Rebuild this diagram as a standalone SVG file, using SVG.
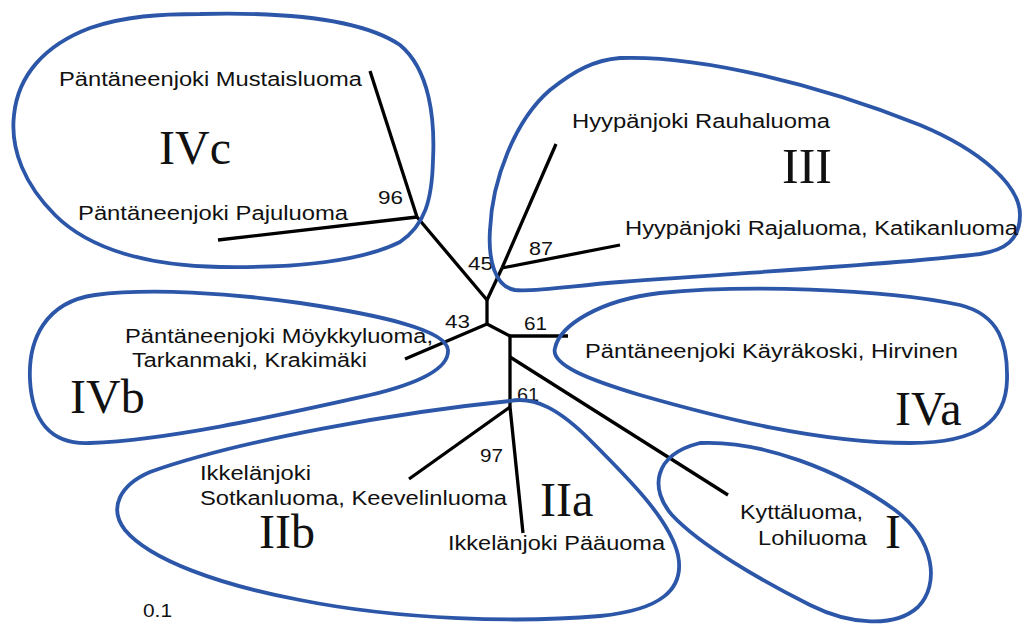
<svg xmlns="http://www.w3.org/2000/svg" width="1022" height="630" viewBox="0 0 1022 630">
<style>
.ol{fill:none;stroke:#2c56a8;stroke-width:3.8;stroke-linejoin:round}
.br{stroke:#000;stroke-width:3.3;stroke-linecap:butt;fill:none}
.t{font-family:"Liberation Sans",Arial,sans-serif;font-size:20px;fill:#111}
.b{font-family:"Liberation Sans",Arial,sans-serif;font-size:19px;fill:#111}
.r{font-family:"Liberation Serif","Times New Roman",serif;font-size:48px;fill:#111}
</style>
<rect width="1022" height="630" fill="#fff"/>
<g id="connectors">
<line class="br" x1="417" y1="217" x2="370" y2="71"/>
<line class="br" x1="417" y1="217" x2="218" y2="240"/>
<line class="br" x1="417" y1="217" x2="487" y2="300"/>
<line class="br" x1="487" y1="300" x2="502" y2="268"/>
<line class="br" x1="502" y1="268" x2="556" y2="144"/>
<line class="br" x1="502" y1="268" x2="620" y2="245"/>
<line class="br" x1="487" y1="300" x2="487" y2="324"/>
<line class="br" x1="487" y1="324" x2="405" y2="359"/>
<line class="br" x1="487" y1="324" x2="510" y2="336"/>
<line class="br" x1="510" y1="336" x2="568" y2="336"/>
<line class="br" x1="510" y1="336" x2="510" y2="357"/>
<line class="br" x1="510" y1="357" x2="728" y2="495"/>
<line class="br" x1="510" y1="357" x2="510" y2="407"/>
<line class="br" x1="510" y1="407" x2="409" y2="479"/>
<line class="br" x1="510" y1="407" x2="523" y2="533"/>
</g>
<g id="bootstrap">
<text class="b" x="378" y="204" textLength="25" lengthAdjust="spacingAndGlyphs">96</text>
<text class="b" x="468" y="270" textLength="25" lengthAdjust="spacingAndGlyphs">45</text>
<text class="b" x="529" y="255" textLength="24" lengthAdjust="spacingAndGlyphs">87</text>
<text class="b" x="445" y="328" textLength="25" lengthAdjust="spacingAndGlyphs">43</text>
<text class="b" x="524" y="330" textLength="23" lengthAdjust="spacingAndGlyphs">61</text>
<text class="b" x="517" y="401" textLength="22" lengthAdjust="spacingAndGlyphs">61</text>
<text class="b" x="480" y="462" textLength="23" lengthAdjust="spacingAndGlyphs">97</text>
</g>
<g id="cluster-IVc">
<path class="ol" d="M200,14 C280,12 360,18 400,45 C430,70 435,120 433,160 C432,200 425,225 400,242 C360,262 290,268 220,267 C150,266 90,250 55,215 C25,185 10,150 14,115 C18,75 45,45 90,28 C125,16 160,14 200,14 Z"/>
<text class="t" x="59" y="86" textLength="303" lengthAdjust="spacingAndGlyphs">Päntäneenjoki Mustaisluoma</text>
<text class="t" x="78" y="220" textLength="270" lengthAdjust="spacingAndGlyphs">Päntäneenjoki Pajuluoma</text>
<text class="r" x="159" y="164">IVc</text>
</g>
<g id="cluster-III">
<path class="ol" d="M620,58 C700,55 820,85 920,125 C980,150 1020,185 1020,215 C1020,240 1005,250 980,254 C900,264 750,272 620,282 C570,286 535,292 515,290 C495,287 488,260 490,230 C492,180 515,120 550,90 C575,70 595,60 620,58 Z"/>
<text class="t" x="572" y="128" textLength="258" lengthAdjust="spacingAndGlyphs">Hyypänjoki Rauhaluoma</text>
<text class="t" x="625" y="235" textLength="393" lengthAdjust="spacingAndGlyphs">Hyypänjoki Rajaluoma, Katikanluoma</text>
<text class="r" x="782" y="183" style="font-size:50px">III</text>
</g>
<g id="cluster-IVb">
<path class="ol" d="M448,350 C447,330 380,315 300,303 C230,293 150,288 95,295 C45,302 28,340 30,380 C32,420 50,445 90,443 C170,440 280,415 370,395 C420,383 449,368 448,350 Z"/>
<text class="t" x="125" y="343" textLength="308" lengthAdjust="spacingAndGlyphs">Päntäneenjoki Möykkyluoma,</text>
<text class="t" x="132" y="367" textLength="235" lengthAdjust="spacingAndGlyphs">Tarkanmaki, Krakimäki</text>
<text class="r" x="70" y="413">IVb</text>
</g>
<g id="cluster-IVa">
<path class="ol" d="M555,348 C560,325 600,300 660,293 C740,285 880,288 960,305 C1000,315 1008,345 1007,380 C1006,420 980,443 910,443 C820,443 720,418 640,395 C590,380 550,365 555,348 Z"/>
<text class="t" x="585" y="358" textLength="373" lengthAdjust="spacingAndGlyphs">Päntäneenjoki Käyräkoski, Hirvinen</text>
<text class="r" x="895" y="425">IVa</text>
</g>
<g id="cluster-II">
<path class="ol" d="M510,401 C535,396 560,410 590,440 C630,480 670,520 678,555 C685,590 660,610 600,616 C520,623 400,620 300,600 C220,585 150,560 125,530 C108,508 120,485 150,472 C240,440 400,412 510,401 Z"/>
<text class="t" x="200" y="480" textLength="111" lengthAdjust="spacingAndGlyphs">Ikkelänjoki</text>
<text class="t" x="200" y="505" textLength="307" lengthAdjust="spacingAndGlyphs">Sotkanluoma, Keevelinluoma</text>
<text class="t" x="448" y="550" textLength="217" lengthAdjust="spacingAndGlyphs">Ikkelänjoki Pääuoma</text>
<text class="r" x="259" y="548">IIb</text>
<text class="r" x="540" y="516">IIa</text>
</g>
<g id="cluster-I">
<path class="ol" d="M700,443 C760,440 840,470 895,510 C935,540 940,585 918,607 C895,628 850,625 810,605 C760,580 700,545 672,515 C650,490 652,455 700,443 Z"/>
<text class="t" x="740" y="519" textLength="123" lengthAdjust="spacingAndGlyphs">Kyttäluoma,</text>
<text class="t" x="758" y="545" textLength="109" lengthAdjust="spacingAndGlyphs">Lohiluoma</text>
<text class="r" x="885" y="548">I</text>
</g>
<g id="scale">
<text class="b" x="143" y="617" textLength="29" lengthAdjust="spacingAndGlyphs">0.1</text>
</g>
</svg>
